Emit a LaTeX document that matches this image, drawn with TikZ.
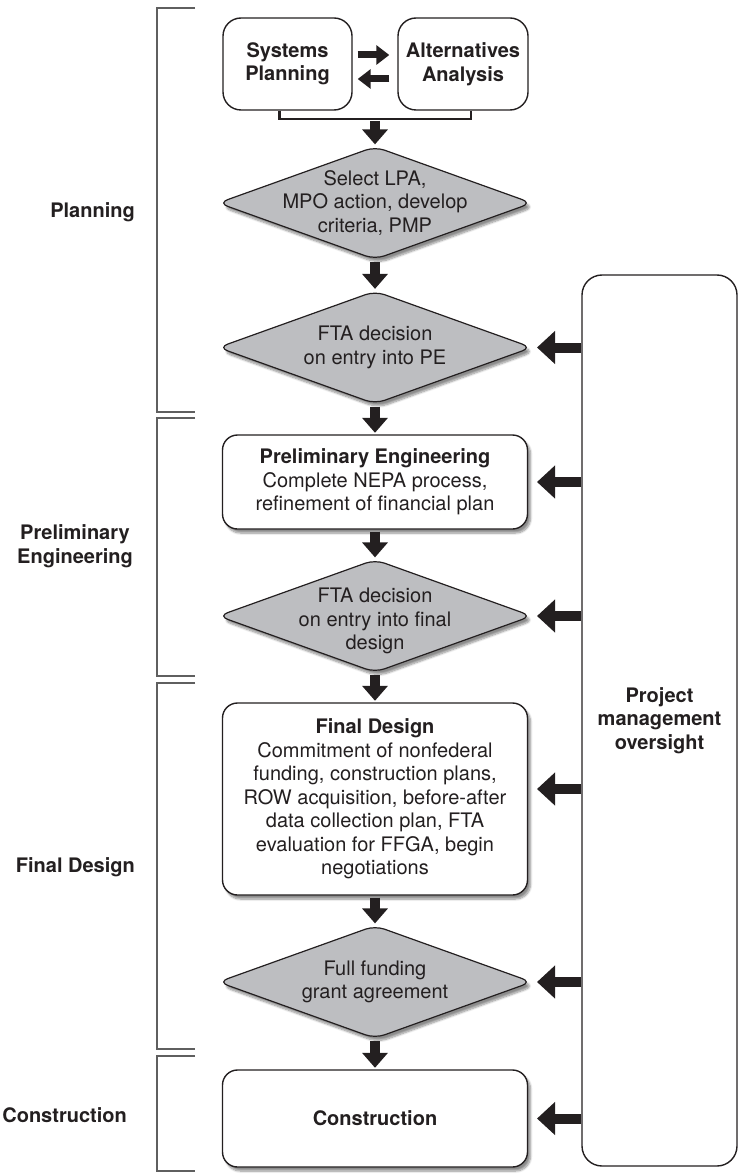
\documentclass[tikz,border=0pt]{standalone}
\usepackage{fontspec}
\setmainfont{TeX Gyre Heros}
\usetikzlibrary{arrows.meta,shapes.geometric,shadows.blur}
\definecolor{ink}{RGB}{35,31,32}
\definecolor{decgray}{RGB}{189,190,193}
\definecolor{rulegray}{RGB}{95,95,95}
\begin{document}
\begin{tikzpicture}[x=1pt,y=-1pt,
  every node/.style={font=\fontsize{20}{23.5}\selectfont,text=ink},
  strong/.style={font=\fontsize{20}{23.5}\selectfont\bfseries},
  box/.style={draw=ink,line width=1.4pt,fill=white,rounded corners=15pt,minimum width=305pt,align=center,inner sep=0pt},
  shade/.style={blur shadow={shadow xshift=3pt,shadow yshift=-4pt,shadow blur steps=8,shadow opacity=45}},
  decision/.style={diamond,draw=ink,line width=1.2pt,fill=decgray,rounded corners=10pt,minimum width=314pt,minimum height=113pt,inner sep=0pt},
  dtext/.style={align=center,inner sep=0pt},
  flow/.style={draw=ink,line width=10pt,-{Triangle[width=25pt,length=15pt]},shorten <=2pt,shorten >=1.5pt},
  feed/.style={draw=ink,line width=10pt,-{Triangle[width=32pt,length=18pt]}},
  backforth/.style={draw=ink,line width=7pt,-{Triangle[width=19pt,length=13pt]}},
  bracket/.style={draw=rulegray,line width=1.3pt}]
  \useasboundingbox (0,0) rectangle (738,1174);

  % phase brackets and names
  \foreach \a/\b in {8/412, 418/676, 683/1049, 1056/1171}
    \draw[bracket] (195,\a) -| (157,\b) -- (195,\b);
  \node[strong,anchor=east,inner sep=0pt] (plan) at (135,212) {Planning};
  \node[strong,anchor=east,inner sep=0pt,align=center] (prelim) at (133,546) {Preliminary\\Engineering};
  \node[strong,anchor=east,inner sep=0pt] (final) at (135,867) {Final Design};
  \node[strong,anchor=east,inner sep=0pt] (build) at (127,1115) {Construction};

  % planning studies
  \node[box,strong,minimum width=129pt,minimum height=92pt,rounded corners=18pt] (sp) at (287.5,64) {Systems\\Planning};
  \node[box,strong,minimum width=130pt,minimum height=92pt,rounded corners=18pt] (aa) at (463,64) {Alternatives\\Analysis};
  \draw[backforth] ([xshift=5pt,yshift=9pt]sp.east) -- ([xshift=-8pt,yshift=9pt]aa.west);
  \draw[backforth] ([xshift=-8pt,yshift=-15pt]aa.west) -- ([xshift=5pt,yshift=-15pt]sp.east);
  \coordinate (join) at (375,119);
  \draw[draw=ink,line width=2.5pt] ([xshift=-8pt]sp.south) |- (join) -| ([xshift=8pt]aa.south);

  % main column
  \node[decision,shade] (d1) at (375,203) {};
  \node[dtext] (d1t) at (d1) {Select LPA,\\MPO action, develop\\criteria, PMP};
  \node[decision,shade] (d2) at (375,347.5) {};
  \node[dtext] (d2t) at (d2) {FTA decision\\on entry into PE};
  \node[box,shade,minimum height=94pt] (pe) at (375,482) {\textbf{Preliminary Engineering}\\Complete NEPA process,\\refinement of financial plan};
  \node[decision,shade] (d3) at (375,616) {};
  \node[dtext] (d3t) at ([yshift=-5pt]d3.center) {FTA decision\\on entry into final\\design};
  \node[box,shade,minimum height=192pt] (fd) at (375,799) {\textbf{Final Design}\\Commitment of nonfederal\\funding, construction plans,\\ROW acquisition, before-after\\data collection plan, FTA\\evaluation for FFGA, begin\\negotiations};
  \node[decision,shade] (d4) at (375,982) {};
  \node[dtext] (d4t) at (d4) {Full funding\\grant agreement};
  \node[box,shade,strong,minimum height=97pt] (con) at (375,1118.5) {Construction};

  \draw[flow] (join) -- (d1.north);
  \foreach \a/\b in {d1/d2,d2/pe,pe/d3,d3/fd,fd/d4,d4/con}
    \draw[flow] (\a.south) -- (\b.north);

  % oversight
  \node[draw=ink,line width=1.4pt,rounded corners=20pt,minimum width=155pt,minimum height=891pt,strong,align=center] (pm) at (659.5,720.5) {Project\\management\\oversight};
  \coordinate (tipx) at (537,0);
  \coordinate (fdin) at ([yshift=10pt]fd.east);
  \foreach \t in {d2,pe,d3,fdin,d4,con}
    \draw[feed] (pm.west |- \t.east) -- (tipx |- \t.east);
\end{tikzpicture}
\end{document}
